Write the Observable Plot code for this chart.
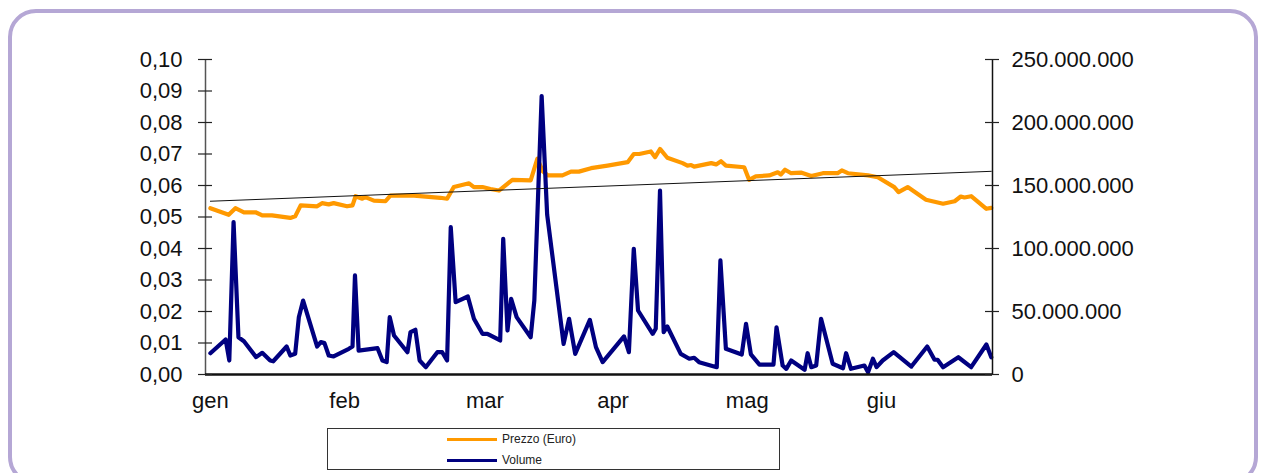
<!DOCTYPE html>
<html>
<head>
<meta charset="utf-8">
<script src="https://cdn.jsdelivr.net/npm/d3@7"></script>
<script src="https://cdn.jsdelivr.net/npm/@observablehq/plot@0.6"></script>
<style>
  html, body { margin: 0; padding: 0; background: #fff; }
  body { font-family: "Liberation Sans", Arial, sans-serif; }
  #wrap { position: relative; width: 1264px; height: 473px; overflow: hidden; }
  #frame { position: absolute; left: 8px; top: 9px; width: 1250px; height: 476px;
           border: 4px solid #b5a7d5; border-radius: 28px; box-sizing: border-box; }
  #chart { position: absolute; left: 0; top: 0; }
  #legend { position: absolute; left: 327px; top: 428px; width: 453px; height: 42px;
            border: 1px solid #333; box-sizing: border-box; background: #fff;
            font-size: 12px; color: #222; }
  .item { position: absolute; left: 119px; display: flex; align-items: center; height: 14px; }
  .sw { width: 50px; height: 3px; margin-right: 5px; }
</style>
</head>
<body>
<div id="wrap">
  <div id="frame"></div>
  <div id="chart"></div>
  <div id="legend"></div>
</div>
<script>
// ---- data (x = trading-day index from the first session of January) ----
const monthLabels = ["gen", "feb", "mar", "apr", "mag", "giu"];
const monthDay = [0, 22, 45, 66, 88, 110];

const priceTicks = [0, 0.01, 0.02, 0.03, 0.04, 0.05, 0.06, 0.07, 0.08, 0.09, 0.10];
const volumeTicks = [0, 50e6, 100e6, 150e6, 200e6, 250e6];

const priceDay = [0,3.0,4.1,5.5,7.4,8.5,10.1,13.1,13.9,14.8,17.5,18.3,19.4,20.2,22.4,23.3,23.8,24.9,25.4,26.8,
  28.7,29.5,33.4,37.7,38.8,39.9,42.4,43.2,44.6,45.9,47.3,49.5,52.5,53.6,54.5,55.3,57.7,59.1,60.4,62.4,
  65.1,68.4,69.4,70.3,72.2,72.9,73.7,74.9,77.4,78.2,78.8,79.3,82.1,82.9,83.7,84.5,87.5,88.3,89.4,91.6,
  93.0,93.5,94.2,95.2,96.8,98.5,100.4,102.8,103.5,104.5,107.8,109.4,112.1,112.8,114.3,117.3,120.1,122.0,123.0,123.6,
  124.7,127.2,128];
const priceValue = [0.0528,0.0507,0.0528,0.0515,0.0515,0.0505,0.0505,0.0497,0.0502,0.0537,0.0534,0.0544,0.0540,0.0544,0.0534,0.0537,0.0566,0.0558,0.0563,0.0552,
  0.0550,0.0568,0.0568,0.0561,0.0558,0.0595,0.0607,0.0595,0.0595,0.0589,0.0584,0.0618,0.0616,0.0685,0.0645,0.0632,0.0632,0.0644,0.0644,0.0655,
  0.0663,0.0674,0.0700,0.0700,0.0708,0.0690,0.0716,0.0688,0.0671,0.0663,0.0665,0.0660,0.0671,0.0667,0.0677,0.0663,0.0658,0.0618,0.0629,0.0632,
  0.0642,0.0635,0.0650,0.0639,0.0641,0.0630,0.0639,0.0639,0.0648,0.0639,0.0632,0.0626,0.0595,0.0579,0.0595,0.0555,0.0542,0.0550,0.0565,0.0562,
  0.0566,0.0526,0.0529];

const volumeDay = [0,2.5,3.1,3.8,4.6,5.5,7.5,8.5,9.8,10.3,
  12.5,13.1,13.9,14.5,15.2,17.5,18.1,18.7,19.4,20.2,
  22.7,23.3,23.7,24.3,27.4,28.2,28.9,29.4,30.1,32.3,
  32.8,33.6,34.3,35.3,37.2,38.0,38.8,39.4,40.2,42.2,
  43.2,44.6,45.4,45.9,47.5,48.0,48.7,49.3,50.2,52.5,
  53.1,54.3,55.2,57.9,58.8,59.8,62.2,63.2,64.3,67.8,
  68.6,69.4,70.1,72.5,73.0,73.7,74.3,74.9,77.1,78.5,
  79.3,80.1,83.0,83.6,84.5,87.1,87.8,88.6,90.0,92.3,
  92.8,93.8,94.4,95.2,97.4,97.9,98.5,99.3,100.1,102.0,
  103.7,104.2,105.0,107.2,107.8,108.6,109.2,110.2,112.0,114.9,
  117.5,118.7,119.2,120.1,122.6,124.7,127.2,128];
const volumeMillions = [16.9,27.8,11.1,120.9,29.6,26.4,13.8,17.2,11.1,10.5,
  22.2,15.1,16.4,45.5,58.7,22.2,25.7,24.9,15.1,14.3,
  20.4,22.2,78.6,19.0,20.9,11.1,9.8,45.5,31.0,17.7,
  33.6,35.5,11.1,5.8,17.7,17.7,11.1,116.9,57.4,61.9,
  44.2,32.3,32.3,31.0,27.0,107.7,34.9,60.1,45.5,29.6,
  58.7,221,127,24.3,44.2,16.4,43.4,21.7,9.8,30.2,
  17.7,99.8,50.8,32.3,36.3,146,33.6,38.1,16.4,12.5,
  13.3,9.8,5.8,90.5,20.4,15.9,40.2,15.9,7.9,7.9,
  37.5,7.1,4.5,11.1,3.7,16.9,5.8,7.1,44.2,8.5,
  5.0,16.9,4.5,7.1,1.8,12.5,5.8,11.1,17.7,6.3,
  22.2,11.7,11.7,5.8,13.7,5.8,23.8,13.7];

// linear trend of the price (at both ends)
const trendDay = [0, 128];
const trendValue = [0.0550, 0.0645];

// ---- build ----
const priceMax = 0.10, volumeMax = 250e6;
const k = priceMax / volumeMax; // volume -> left-axis units
const xDomain = [-0.8, 128.2];

const priceData = priceDay.map((d, i) => ({day: d, value: priceValue[i]}));
const volumeData = volumeDay.map((d, i) => ({day: d, value: volumeMillions[i] * 1e6}));
const trendData = trendDay.map((d, i) => ({day: d, value: trendValue[i]}));

const fmtVol = d3.formatLocale({decimal: ",", thousands: ".", grouping: [3], currency: ["", "€"]}).format(",d");
const fmtPrice = d => d.toFixed(2).replace(".", ",");

const chart = Plot.plot({
  width: 1264,
  height: 420,
  marginLeft: 205,
  marginRight: 272,
  marginTop: 59,
  marginBottom: 46,
  style: {fontFamily: "'Liberation Sans', Arial, sans-serif", fontSize: "22px", color: "#111", background: "transparent", overflow: "visible"},
  x: {domain: xDomain},
  y: {domain: [0, priceMax]},
  marks: [
    Plot.line(priceData, {x: "day", y: "value", stroke: "#ff9900", strokeWidth: 4.2, strokeLinejoin: "round"}),
    Plot.line(volumeData, {x: "day", y: d => d.value * k, stroke: "#000080", strokeWidth: 4.2, strokeLinejoin: "round"}),
    Plot.line(trendData, {x: "day", y: "value", stroke: "#111", strokeWidth: 1}),
    // axis lines
    Plot.ruleX([xDomain[0]], {stroke: "#555", strokeWidth: 1.5}),
    Plot.ruleX([xDomain[1]], {stroke: "#111", strokeWidth: 1.5}),
    Plot.ruleY([0], {stroke: "#111", strokeWidth: 2.5}),
    // crossing tick marks
    Plot.ruleY(priceTicks, {x1: xDomain[0], x2: xDomain[0], insetLeft: -7, insetRight: -7, stroke: "#222", strokeWidth: 1.2}),
    Plot.ruleY(volumeTicks.map(v => v * k), {x1: xDomain[1], x2: xDomain[1], insetLeft: -7, insetRight: -7, stroke: "#222", strokeWidth: 1.2}),
    // axes
    Plot.axisX({ticks: monthDay, tickFormat: d => monthLabels[monthDay.indexOf(d)], tickSize: 0, tickPadding: 18, label: null}),
    Plot.axisY({anchor: "left", ticks: priceTicks, tickFormat: fmtPrice, tickSize: 0, tickPadding: 23, label: null}),
    Plot.axisY({anchor: "right", ticks: volumeTicks.map(v => v * k), tickFormat: d => fmtVol(Math.round(d / k)), tickSize: 0, tickPadding: 19, label: null})
  ]
});
document.getElementById("chart").appendChild(chart);

// ---- legend ----
const legendItems = [
  {label: "Prezzo (Euro)", color: "#ff9900"},
  {label: "Volume", color: "#000080"}
];
const legend = document.getElementById("legend");
legendItems.forEach((it, i) => {
  const row = document.createElement("div");
  row.className = "item";
  row.style.top = (3 + i * 21) + "px";
  const sw = document.createElement("div");
  sw.className = "sw";
  sw.style.background = it.color;
  const tx = document.createElement("span");
  tx.textContent = it.label;
  row.appendChild(sw);
  row.appendChild(tx);
  legend.appendChild(row);
});
</script>
</body>
</html>
